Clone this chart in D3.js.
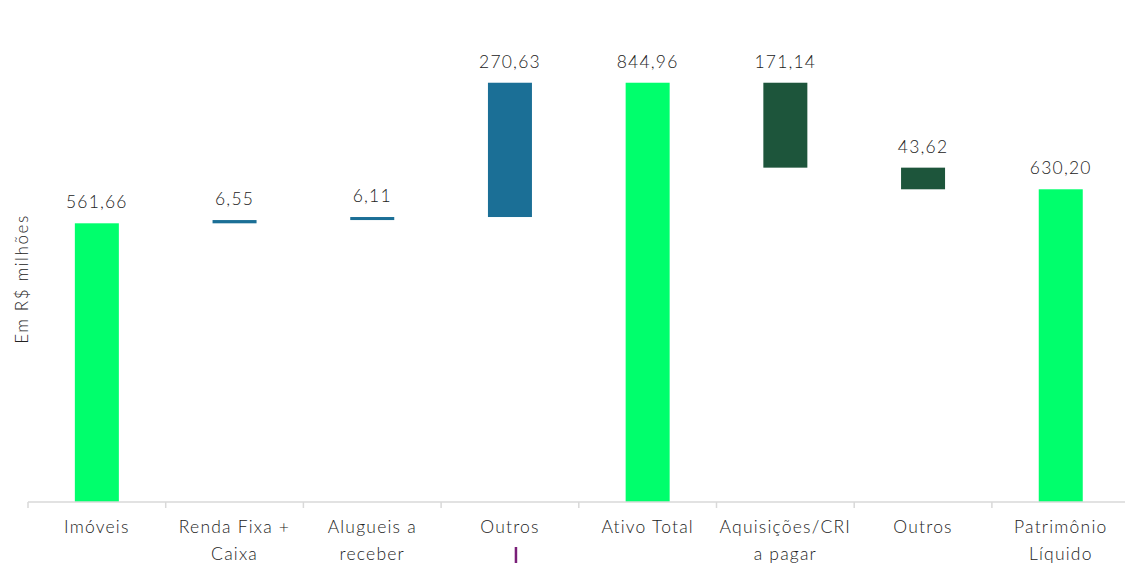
<!DOCTYPE html>
<html><head><meta charset="utf-8">
<script src="https://cdn.jsdelivr.net/npm/d3@7"></script>
<style>
html,body{margin:0;padding:0;background:#fff;}
svg{display:block;font-family:"Lato","Open Sans",sans-serif;font-weight:300;}
</style></head>
<body>
<svg id="chart" width="1125" height="563"></svg>
<script>
const categories = [["Imóveis"],["Renda Fixa +","Caixa"],["Alugueis a","receber"],["Outros"],["Ativo Total"],["Aquisições/CRI","a pagar"],["Outros"],["Patrimônio","Líquido"]];
const values = [561.66, 6.55, 6.11, 270.63, 844.96, -171.14, -43.62, 630.20];
const kinds = ["total","asset","asset","asset","total","liability","liability","total"];
const labels = ["561,66","6,55","6,11","270,63","844,96","171,14","43,62","630,20"];
const colors = {total:"#00ff6c", asset:"#1b6f96", liability:"#1d553b"};

const svg = d3.select("#chart");
const x0 = 28, baseY = 502;
const x = d3.scaleBand().domain(d3.range(categories.length)).range([x0, x0 + 8*137.7]).paddingInner(0).paddingOuter(0);
const y = d3.scaleLinear().domain([0, 900]).range([baseY, baseY - 900*0.4962]);

let cum = 0;
const segs = values.map((v,i) => {
  let lo, hi;
  if (kinds[i] === "total") { lo = 0; hi = v; cum = v; }
  else { const s = cum; cum = cum + v; lo = Math.min(s, cum); hi = Math.max(s, cum); }
  return {i, lo, hi, kind: kinds[i], label: labels[i]};
});

const bw = 44;
svg.append("g").selectAll("rect").data(segs).join("rect")
  .attr("x", d => x(d.i) + x.bandwidth()/2 - bw/2)
  .attr("width", bw)
  .attr("y", d => y(d.hi))
  .attr("height", d => Math.max(2.5, y(d.lo) - y(d.hi)))
  .attr("fill", d => colors[d.kind]);

svg.append("g").selectAll("text").data(segs).join("text")
  .attr("x", d => x(d.i) + x.bandwidth()/2)
  .attr("y", d => y(d.hi) - 15)
  .attr("text-anchor","middle")
  .attr("font-size", 17.5)
  .attr("letter-spacing", 1.2)
  .attr("fill", "#222222")
  .text(d => d.label);

const axis = d3.axisBottom(x).tickSize(0).tickFormat("");
const ga = svg.append("g").attr("transform", `translate(0,${baseY})`).call(axis);
ga.select(".domain").attr("stroke","#d9d9d9").attr("stroke-width",1.5).attr("d", `M${x0},0H1125`);
svg.append("g").selectAll("line").data(d3.range(categories.length)).join("line")
  .attr("x1", d => x(d)).attr("x2", d => x(d))
  .attr("y1", baseY).attr("y2", baseY + 6)
  .attr("stroke","#d9d9d9").attr("stroke-width",1.5);

const cl = svg.append("g").selectAll("text").data(categories).join("text")
  .attr("x", (d,i) => x(i) + x.bandwidth()/2)
  .attr("y", 533)
  .attr("text-anchor","middle")
  .attr("font-size", 17.5)
  .attr("letter-spacing", 1.2)
  .attr("fill","#222222");
cl.selectAll("tspan").data(d => d).join("tspan")
  .attr("x", function(){ return this.parentNode.getAttribute("x"); })
  .attr("dy", (d,j) => j === 0 ? 0 : 27)
  .text(d => d);

svg.append("text")
  .attr("transform", "translate(28,279) rotate(-90)")
  .attr("text-anchor","middle")
  .attr("font-size", 17)
  .attr("letter-spacing", 1.6)
  .attr("fill","#222222")
  .text("Em R$ milhões");

svg.append("line")
  .attr("x1", x(3) + x.bandwidth()/2 + 6).attr("x2", x(3) + x.bandwidth()/2 + 6)
  .attr("y1", 547).attr("y2", 563)
  .attr("stroke","#7a1f78").attr("stroke-width",2.5);
</script>
</body></html>
